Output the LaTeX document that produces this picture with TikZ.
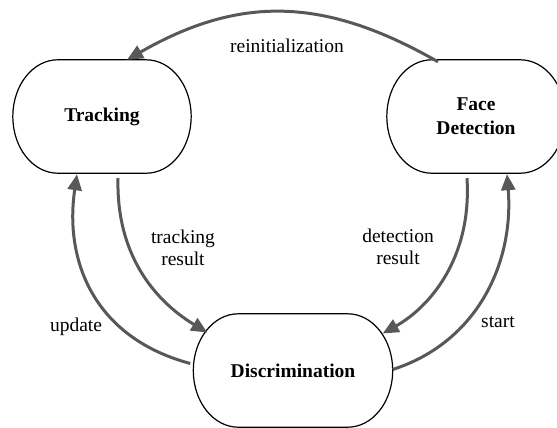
\documentclass[tikz,border=0pt]{standalone}
\usepackage{fontspec}
\setmainfont{Liberation Serif}
\usetikzlibrary{arrows.meta}

\definecolor{arrowgray}{HTML}{585858}
\tikzset{
  state/.style={minimum height=113pt, align=center, inner sep=0pt,
    font=\fontsize{19.5}{24}\selectfont\bfseries},
  outline/.style={draw=black, line width=1.2pt, line join=round},
  flow/.style={draw=arrowgray, line width=3pt,
    -{Triangle[length=16pt,width=14pt]}},
  tag/.style={font=\fontsize{19.5}{22}\selectfont, align=center, inner sep=0pt}
}
% border of a state: straight top and bottom, elliptical ends
\newcommand\stateoutline[1]{%
  \draw[outline] ([xshift=45pt]#1.north west) -- ([xshift=-45pt]#1.north east)
    .. controls ([xshift=-20pt]#1.north east) and ([yshift=-25.5pt]#1.north east) .. (#1.east)
    .. controls ([yshift=25.5pt]#1.south east) and ([xshift=-20pt]#1.south east) .. ([xshift=-45pt]#1.south east)
    -- ([xshift=45pt]#1.south west)
    .. controls ([xshift=20pt]#1.south west) and ([yshift=25.5pt]#1.south west) .. (#1.west)
    .. controls ([yshift=-25.5pt]#1.north west) and ([xshift=20pt]#1.north west) .. ([xshift=45pt]#1.north west)
    -- cycle;}

\begin{document}
\begin{tikzpicture}[x=1pt,y=-1pt]
  \useasboundingbox (0,0) rectangle (557,428);
  \begin{scope}
    \clip (0,0) rectangle (557,428);

    % the three states
    \node[state, minimum width=178pt] (trk) at (102,116.5) {Tracking};
    \node[state, minimum width=178pt] (fd)  at (476,116.5) {Face\\Detection};
    \node[state, minimum width=199pt] (dis) at (293,370.5) {Discrimination};
    \stateoutline{trk}
    \stateoutline{fd}
    \stateoutline{dis}

    % transitions
    \draw[flow] ([xshift=-38pt,yshift=-2pt]fd.north)
      .. controls (325,-3) and (240,-5) .. ([xshift=25pt]trk.north);
    \draw[flow] ([xshift=16pt,yshift=-5pt]trk.south)
      .. controls (116,260) and (160,304) .. ([xshift=14pt,yshift=38pt]dis.west);
    \draw[flow] ([xshift=-3pt,yshift=7pt]dis.west)
      .. controls (95,338) and (64,262) .. ([xshift=-25pt,yshift=-1pt]trk.south);
    \draw[flow] ([xshift=-9pt,yshift=-5pt]fd.south)
      .. controls (472,260) and (428,308) .. ([xshift=-10pt,yshift=37pt]dis.east);
    \draw[flow] ([yshift=1pt]dis.east)
      .. controls (478,342) and (514,262) .. ([xshift=31pt,yshift=-1pt]fd.south);

    % transition labels
    \node[tag] (lreinit) at (287,46) {reinitialization};
    \node[tag] (ltrk) at (183,248) {tracking\\result};
    \node[tag] (ldet) at (398,247) {detection\\result};
    \node[tag] (lupd) at (76,327) {update};
    \node[tag] (lstart) at (498,322) {start};
  \end{scope}
\end{tikzpicture}
\end{document}
